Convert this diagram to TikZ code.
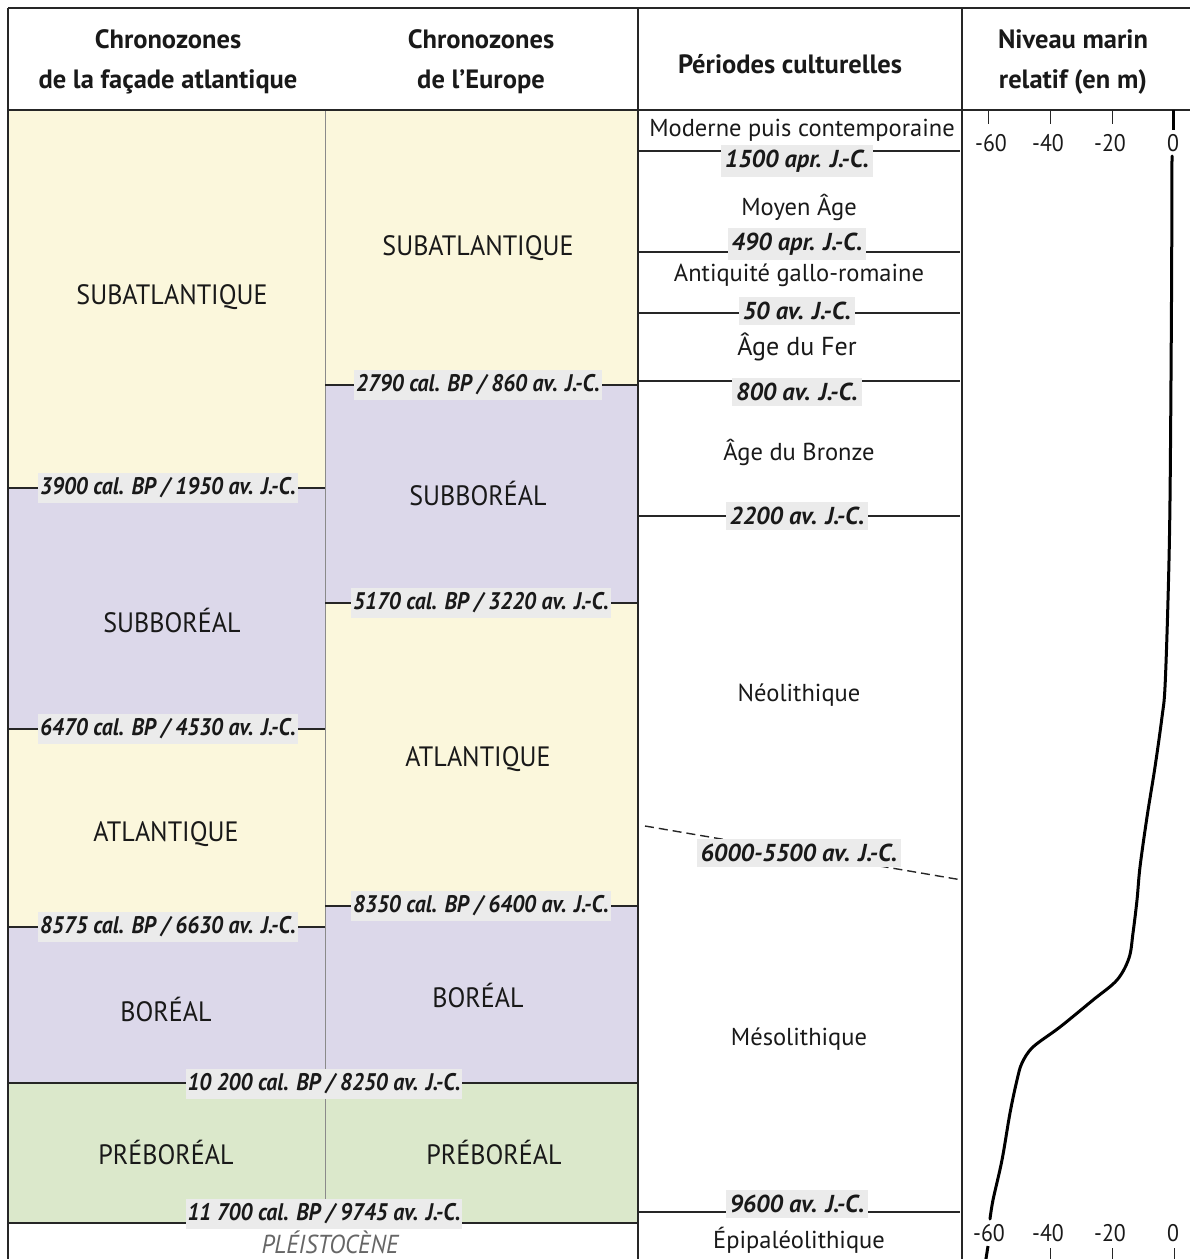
\documentclass[tikz,border=0pt]{standalone}
\usepackage{fontspec}
\setmainfont{PT Sans}
\newfontfamily\zonefont[FakeStretch=0.93]{PT Sans}
\newfontfamily\condfont[FakeStretch=0.91]{PT Sans}
\definecolor{zyellow}{HTML}{FBF7DC}
\definecolor{zlav}{HTML}{DCD8EA}
\definecolor{zgreen}{HTML}{DBE8CB}
\definecolor{lblgray}{HTML}{EBEBEB}
\definecolor{divgray}{HTML}{8A8A8A}
\tikzset{
  frame/.style={line width=2.4pt, black!85},
  bound/.style={line width=1.4pt, black!85},
  zone/.style={font=\zonefont\fontsize{28}{32}\selectfont, text=black!90},
  datec/.style={fill=lblgray, inner xsep=2pt, inner ysep=5pt, font=\condfont\bfseries\itshape\fontsize{24}{27}\selectfont, text=black!90},
  dateb/.style={fill=lblgray, inner xsep=4pt, inner ysep=5pt, font=\bfseries\itshape\fontsize{24.5}{27}\selectfont, text=black!90},
  period/.style={font=\fontsize{24.5}{28}\selectfont, text=black!90},
  head/.style={align=center, font=\bfseries\fontsize{26.5}{40}\selectfont, text=black!90},
  axlbl/.style={font=\condfont\fontsize{24}{27}\selectfont, text=black!90, inner sep=1pt},
  tick/.style={line width=0.9pt, black!85},
  curve/.style={line width=3pt, black, line cap=round}
}
\begin{document}
\begin{tikzpicture}[x=1pt,y=-1pt]
\useasboundingbox (0,0) rectangle (1190,1259);
\begin{scope}
\clip (0,0) rectangle (1190,1259);
% fills column 1
\fill[zyellow] (8,110) rectangle (325,488);
\fill[zlav] (8,488) rectangle (325,729);
\fill[zyellow] (8,729) rectangle (325,927);
\fill[zlav] (8,927) rectangle (325,1083);
\fill[zgreen] (8,1083) rectangle (325,1223);
% fills column 2
\fill[zyellow] (325,110) rectangle (638,385);
\fill[zlav] (325,385) rectangle (638,603);
\fill[zyellow] (325,603) rectangle (638,906);
\fill[zlav] (325,906) rectangle (638,1083);
\fill[zgreen] (325,1083) rectangle (638,1223);
% divider between col 1 and 2
\draw[divgray, line width=0.8pt] (325,110) -- (325,1223);
% boundaries col 1 and 2
\draw[bound] (8,488) -- (325,488);
\draw[bound] (8,729) -- (325,729);
\draw[bound] (8,927) -- (325,927);
\draw[bound] (325,385) -- (638,385);
\draw[bound] (325,603) -- (638,603);
\draw[bound] (325,906) -- (638,906);
\draw[bound] (8,1083) -- (638,1083);
\draw[bound] (8,1223) -- (638,1223);
% boundaries col 3
\draw[bound] (638,151) -- (960,151);
\draw[bound] (638,252) -- (960,252);
\draw[bound] (638,313) -- (960,313);
\draw[bound] (638,381) -- (960,381);
\draw[bound] (638,516) -- (960,516);
\draw[bound] (638,1212) -- (960,1212);
\draw[bound, dashed, dash pattern=on 9pt off 5pt] (645,826) -- (962,880);
% frame
\draw[frame] (8,8) -- (1200,8);
\draw[frame] (8,110) -- (1200,110);
\draw[frame] (8,8) -- (8,1270);
\draw[frame] (638,8) -- (638,1270);
\draw[frame] (962,8) -- (962,1270);
% headers
\node[head] (h1) at (168,62) {Chronozones\\de la façade atlantique};
\node[head] (h2) at (481,62) {Chronozones\\de l’Europe};
\node[head] (h3) at (790,64) {Périodes culturelles};
\node[head] (h4) at (1073,62) {Niveau marin\\relatif (en m)};
% zone names col 1
\node[zone] (a1) at (172,297) {SUBATLANTIQUE};
\node[zone] (a2) at (172,620) {SUBBORÉAL};
\node[zone] (a3) at (166,834) {ATLANTIQUE};
\node[zone] (a4) at (166,1009) {BORÉAL};
\node[zone] (a5) at (166,1152) {PRÉBORÉAL};
% zone names col 2
\node[zone] (e1) at (478,248) {SUBATLANTIQUE};
\node[zone] (e2) at (478,493) {SUBBORÉAL};
\node[zone] (e3) at (478,759) {ATLANTIQUE};
\node[zone] (e4) at (478,995) {BORÉAL};
\node[zone] (e5) at (494,1152) {PRÉBORÉAL};
\node[zone, inner sep=1pt, font=\zonefont\itshape\fontsize{26}{28}\selectfont, text=black!60] (pl) at (330,1242) {PLÉISTOCÈNE};
% date labels col 1 and 2
\node[datec] (d1) at (168,488) {3900 cal. BP / 1950 av. J.-C.};
\node[datec] (d2) at (168,729) {6470 cal. BP / 4530 av. J.-C.};
\node[datec] (d3) at (168,927) {8575 cal. BP / 6630 av. J.-C.};
\node[datec] (d4) at (478,385) {2790 cal. BP / 860 av. J.-C.};
\node[datec] (d5) at (481,603) {5170 cal. BP / 3220 av. J.-C.};
\node[datec] (d6) at (481,906) {8350 cal. BP / 6400 av. J.-C.};
\node[datec] (d7) at (324,1084) {10~200 cal. BP / 8250 av. J.-C.};
\node[datec] (d8) at (324,1214) {11~700 cal. BP / 9745 av. J.-C.};
% periods col 3
\node[period] (p1) at (802,130) {Moderne puis contemporaine};
\node[period] (p2) at (799,207) {Moyen Âge};
\node[period] (p3) at (799,275) {Antiquité gallo-romaine};
\node[period, font=\fontsize{26}{30}\selectfont] (p4) at (797,347) {Âge du Fer};
\node[period] (p5) at (799,452) {Âge du Bronze};
\node[period] (p6) at (799,695) {Néolithique};
\node[period] (p7) at (799,1039) {Mésolithique};
\node[period] (p8) at (799,1240) {Épipaléolithique};
% dates col 3
\node[dateb] (c1) at (797,161) {1500 apr. J.-C.};
\node[dateb] (c2) at (797,244) {490 apr. J.-C.};
\node[dateb] (c3) at (797,311) {50 av. J.-C.};
\node[dateb] (c4) at (797,392) {800 av. J.-C.};
\node[dateb] (c5) at (797,516) {2200 av. J.-C.};
\node[dateb] (c6) at (799,853) {6000-5500 av. J.-C.};
\node[dateb] (c7) at (797,1204) {9600 av. J.-C.};
% sea level axis top
\draw[tick] (988,110) -- (988,124);
\draw[tick] (1050,110) -- (1050,124);
\draw[tick] (1112,110) -- (1112,124);
\draw[curve, line cap=butt] (1173,110) -- (1173,130);
\node[axlbl] (t60) at (991,143) {-60};
\node[axlbl] (t40) at (1048,143) {-40};
\node[axlbl] (t20) at (1110,143) {-20};
\node[axlbl] (t0) at (1173,143) {0};
% sea level axis bottom
\node[axlbl] (b60) at (989,1233) {-60};
\node[axlbl] (b40) at (1048,1233) {-40};
\node[axlbl] (b20) at (1110,1233) {-20};
\node[axlbl] (b0) at (1173,1233) {0};
\draw[tick] (1050,1248) -- (1050,1265);
\draw[tick] (1112,1248) -- (1112,1265);
\draw[tick] (1174,1248) -- (1174,1265);
% curve
\draw[curve] plot[smooth, tension=0.55] coordinates {
 (1172,156) (1171.5,300) (1170,500) (1168,600) (1165,687) (1162,717)
 (1155,767) (1147,817) (1140,867) (1137,900) (1133,933) (1129,958)
 (1117,980) (1093,1000) (1060,1027) (1033,1047) (1022,1063) (1017,1080)
 (1010,1113) (1002,1160) (993,1200) (990,1219)};
\draw[curve, line cap=butt] (988,1246) -- (985,1265);
\end{scope}
\end{tikzpicture}
\end{document}
